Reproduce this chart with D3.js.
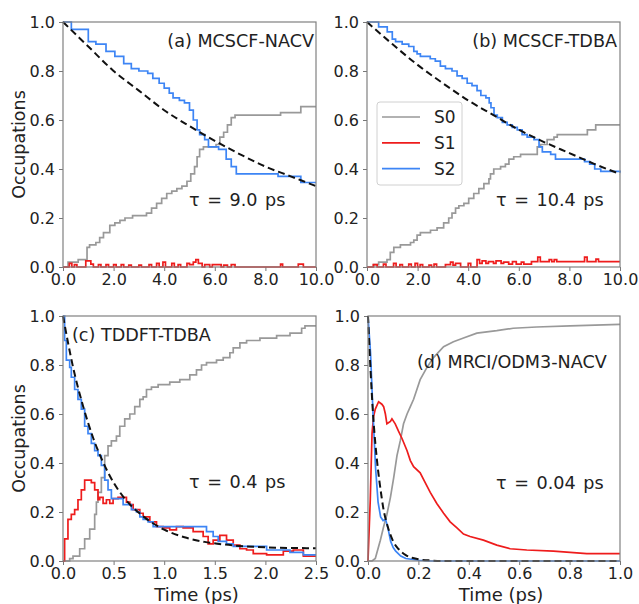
<!DOCTYPE html>
<html>
<head>
<meta charset="utf-8">
<script src="https://cdn.jsdelivr.net/npm/d3@7"></script>
<style>
  body { margin: 0; background: #fff; }
  text { font-family: "DejaVu Sans", sans-serif; fill: #222; }
</style>
</head>
<body>
<div id="chart"></div>
<script>

// ---- (a) MCSCF-NACV ----
const aS0T = [0, 0.2, 0.6, 0.95, 1.05, 1.3, 1.45, 1.6, 1.85, 2.05, 2.25, 2.45, 2.75, 3.3, 3.5, 3.7, 3.9, 4.1, 4.3, 4.5, 4.7, 4.9, 5.05, 5.2, 5.3, 5.4, 5.55, 6.05, 6.2, 6.35, 6.5, 6.65, 6.8, 8.6, 9.4, 10];
const aS0V = [0, 0.02, 0.03, 0.08, 0.09, 0.1, 0.12, 0.14, 0.17, 0.18, 0.19, 0.2, 0.21, 0.22, 0.24, 0.26, 0.28, 0.3, 0.31, 0.32, 0.33, 0.35, 0.38, 0.41, 0.45, 0.48, 0.49, 0.50, 0.53, 0.55, 0.58, 0.61, 0.62, 0.63, 0.655, 0.655];
const aS1T = [0, 0.25, 0.35, 0.45, 0.55, 0.9, 1.1, 1.2, 1.4, 1.5, 1.7, 1.8, 2.0, 2.1, 2.3, 2.4, 2.6, 2.7, 3.0, 3.1, 3.4, 3.5, 3.7, 3.8, 3.95, 4.05, 4.3, 4.4, 4.55, 4.65, 4.9, 5.0, 5.15, 5.25, 5.35, 5.5, 5.6, 5.8, 5.9, 6.25, 6.35, 6.5, 6.65, 6.8, 8.6, 8.68, 9.3, 9.5, 10];
const aS1V = [0, 0.015, 0, 0.01, 0, 0.025, 0.012, 0, 0.01, 0, 0.01, 0, 0.01, 0, 0.01, 0, 0.008, 0, 0.008, 0, 0.01, 0, 0.015, 0, 0.02, 0, 0.015, 0, 0.01, 0, 0.015, 0.01, 0.02, 0.03, 0.015, 0, 0.01, 0, 0.01, 0, 0.008, 0, 0.01, 0, 0.012, 0, 0.012, 0, 0];
const aS2T = [0, 0.33, 1.0, 1.3, 1.7, 2.05, 2.4, 2.7, 3.0, 3.35, 3.55, 3.8, 4.0, 4.2, 4.35, 4.6, 4.8, 5.0, 5.15, 5.3, 5.4, 5.6, 5.75, 6.15, 6.45, 6.65, 6.85, 8.5, 9.4, 10];
const aS2V = [1.0, 0.97, 0.92, 0.91, 0.88, 0.86, 0.83, 0.81, 0.80, 0.79, 0.77, 0.75, 0.73, 0.71, 0.69, 0.68, 0.67, 0.64, 0.60, 0.56, 0.54, 0.52, 0.49, 0.48, 0.44, 0.41, 0.38, 0.37, 0.345, 0.345];
const aFitT = [0, 1, 2, 3, 4, 5, 6, 7, 8, 9, 10];
const aFitV = [1.0, 0.90, 0.80, 0.72, 0.64, 0.575, 0.515, 0.46, 0.41, 0.37, 0.33];

// ---- (b) MCSCF-TDBA ----
const bS0T = [0, 0.26, 0.46, 0.79, 0.92, 1.06, 1.32, 1.72, 1.85, 1.98, 2.11, 2.51, 2.77, 3.03, 3.23, 3.36, 3.5, 3.63, 3.83, 4.02, 4.22, 4.42, 4.62, 4.82, 4.88, 5.01, 5.28, 5.47, 5.61, 5.8, 6.07, 6.73, 6.86, 7.12, 7.39, 7.52, 8.71, 9.04, 10];
const bS0V = [0, 0.01, 0.02, 0.03, 0.06, 0.08, 0.09, 0.10, 0.11, 0.13, 0.14, 0.15, 0.16, 0.18, 0.20, 0.22, 0.24, 0.25, 0.26, 0.28, 0.30, 0.32, 0.34, 0.36, 0.38, 0.40, 0.41, 0.42, 0.44, 0.45, 0.46, 0.49, 0.50, 0.52, 0.53, 0.54, 0.56, 0.58, 0.58];
const bS1T = [0, 0.25, 0.4, 0.65, 0.75, 1.05, 1.15, 1.3, 1.4, 1.65, 1.75, 1.9, 2.0, 2.1, 2.2, 2.45, 2.55, 2.65, 2.75, 3.1, 3.3, 3.4, 3.5, 3.7, 4.0, 4.1, 4.35, 4.45, 4.55, 4.7, 4.8, 5.0, 5.1, 5.3, 5.4, 5.6, 5.75, 5.9, 6.1, 6.2, 6.5, 6.75, 6.85, 7.2, 7.3, 7.4, 7.5, 8.6, 8.7, 9.05, 9.15, 10];
const bS1V = [0, 0.01, 0, 0.012, 0, 0.015, 0, 0.01, 0, 0.012, 0, 0.015, 0, 0.01, 0, 0.008, 0, 0.012, 0, 0.01, 0.02, 0.008, 0.015, 0, 0.015, 0, 0.03, 0.015, 0.025, 0.015, 0.022, 0.015, 0.025, 0.015, 0.02, 0.012, 0.022, 0.012, 0.02, 0.012, 0.022, 0.04, 0.022, 0.03, 0.022, 0.03, 0.022, 0.04, 0.022, 0.032, 0.022, 0.022];
const bS2T = [0, 0.46, 0.8, 1.0, 1.13, 1.39, 1.65, 1.85, 1.98, 2.11, 2.5, 2.7, 2.9, 3.1, 3.36, 3.56, 3.76, 3.96, 4.15, 4.35, 4.5, 4.7, 4.83, 4.9, 5.02, 5.15, 5.35, 5.54, 5.74, 5.94, 6.13, 6.33, 6.6, 6.8, 6.93, 7.26, 7.45, 8.6, 8.8, 9.0, 9.24, 10];
const bS2V = [1.0, 0.98, 0.96, 0.93, 0.92, 0.91, 0.90, 0.88, 0.87, 0.86, 0.85, 0.84, 0.82, 0.81, 0.80, 0.78, 0.77, 0.75, 0.74, 0.72, 0.70, 0.69, 0.67, 0.65, 0.62, 0.61, 0.59, 0.58, 0.57, 0.56, 0.54, 0.53, 0.52, 0.49, 0.47, 0.46, 0.44, 0.43, 0.42, 0.40, 0.39, 0.385];
const bFitT = [0, 1, 2, 3, 4, 5, 6, 7, 8, 9, 10];
const bFitV = [1.0, 0.91, 0.825, 0.75, 0.68, 0.62, 0.56, 0.51, 0.465, 0.42, 0.38];

// ---- (c) TDDFT-TDBA ----
const cS0T = [0, 0.066, 0.099, 0.165, 0.214, 0.264, 0.313, 0.330, 0.346, 0.379, 0.412, 0.445, 0.478, 0.528, 0.561, 0.610, 0.660, 0.709, 0.759, 0.792, 0.825, 0.874, 0.940, 1.055, 1.154, 1.253, 1.319, 1.369, 1.418, 1.517, 1.583, 1.649, 1.682, 1.748, 1.814, 1.946, 2.111, 2.243, 2.358, 2.391, 2.5];
const cS0V = [0, 0.01, 0.02, 0.05, 0.09, 0.13, 0.19, 0.24, 0.28, 0.34, 0.43, 0.47, 0.49, 0.51, 0.55, 0.58, 0.60, 0.63, 0.66, 0.67, 0.70, 0.71, 0.72, 0.73, 0.74, 0.76, 0.78, 0.80, 0.81, 0.82, 0.83, 0.85, 0.87, 0.89, 0.90, 0.91, 0.92, 0.93, 0.95, 0.96, 0.96];
const cS1T = [0, 0.016, 0.049, 0.082, 0.115, 0.148, 0.181, 0.214, 0.247, 0.280, 0.313, 0.346, 0.363, 0.396, 0.429, 0.462, 0.495, 0.544, 0.594, 0.627, 0.660, 0.693, 0.726, 0.759, 0.792, 0.858, 0.924, 0.989, 1.055, 1.121, 1.187, 1.286, 1.385, 1.434, 1.484, 1.550, 1.616, 1.682, 1.748, 1.814, 1.880, 2.012, 2.177, 2.276, 2.375, 2.5];
const cS1V = [0, 0.09, 0.17, 0.19, 0.21, 0.25, 0.29, 0.33, 0.33, 0.32, 0.29, 0.25, 0.26, 0.235, 0.25, 0.235, 0.255, 0.26, 0.26, 0.24, 0.23, 0.21, 0.21, 0.195, 0.18, 0.16, 0.14, 0.135, 0.127, 0.14, 0.135, 0.12, 0.10, 0.07, 0.085, 0.105, 0.085, 0.065, 0.05, 0.045, 0.03, 0.025, 0.04, 0.045, 0.02, 0.02];
const cS2T = [0, 0.016, 0.033, 0.066, 0.082, 0.115, 0.148, 0.181, 0.214, 0.247, 0.28, 0.313, 0.346, 0.379, 0.412, 0.445, 0.478, 0.594, 0.676, 0.726, 0.759, 0.792, 0.841, 0.891, 1.418, 1.484, 1.534, 1.616, 1.682, 2.012, 2.243, 2.375, 2.5];
const cS2V = [1.0, 0.90, 0.82, 0.79, 0.75, 0.70, 0.66, 0.62, 0.55, 0.52, 0.48, 0.45, 0.43, 0.39, 0.33, 0.29, 0.255, 0.23, 0.21, 0.20, 0.18, 0.17, 0.16, 0.14, 0.12, 0.10, 0.08, 0.07, 0.06, 0.045, 0.035, 0.025, 0.025];
const cFitT = [0, 0.1, 0.2, 0.3, 0.4, 0.5, 0.6, 0.8, 1.0, 1.2, 1.4, 1.6, 2.0, 2.5];
const cFitV = [1.0, 0.79, 0.63, 0.5, 0.4, 0.32, 0.26, 0.18, 0.128, 0.097, 0.078, 0.067, 0.056, 0.052];

// ---- (d) MRCI/ODM3-NACV ----
const dS0T = [0, 0.016, 0.029, 0.049, 0.062, 0.075, 0.089, 0.102, 0.115, 0.128, 0.141, 0.155, 0.168, 0.181, 0.194, 0.207, 0.234, 0.260, 0.300, 0.339, 0.379, 0.432, 0.511, 0.576, 0.669, 0.802, 1.0];
const dS0V = [0, 0, 0.01, 0.085, 0.14, 0.19, 0.26, 0.34, 0.43, 0.49, 0.56, 0.60, 0.63, 0.66, 0.70, 0.74, 0.79, 0.83, 0.875, 0.895, 0.91, 0.93, 0.94, 0.95, 0.955, 0.96, 0.966];
const dS1T = [0, 0.009, 0.016, 0.022, 0.029, 0.042, 0.055, 0.062, 0.069, 0.075, 0.089, 0.095, 0.108, 0.121, 0.135, 0.155, 0.168, 0.181, 0.207, 0.227, 0.247, 0.273, 0.300, 0.326, 0.353, 0.379, 0.405, 0.458, 0.511, 0.564, 0.630, 0.736, 0.868, 1.0];
const dS1V = [0, 0.25, 0.52, 0.59, 0.62, 0.65, 0.64, 0.63, 0.60, 0.56, 0.57, 0.58, 0.56, 0.53, 0.50, 0.45, 0.41, 0.385, 0.36, 0.32, 0.28, 0.235, 0.195, 0.16, 0.135, 0.11, 0.10, 0.085, 0.065, 0.05, 0.045, 0.04, 0.03, 0.03];
const dS2T = [0, 0.01, 0.02, 0.03, 0.04, 0.05, 0.06, 0.07, 0.08, 0.09, 0.1, 0.11, 0.13, 0.15, 0.2, 0.25, 1.0];
const dS2V = [1.0, 0.85, 0.6, 0.38, 0.24, 0.18, 0.165, 0.17, 0.13, 0.08, 0.055, 0.04, 0.02, 0.01, 0.003, 0, 0];
const dFitT = [0, 0.01, 0.02, 0.03, 0.04, 0.05, 0.06, 0.08, 0.1, 0.12, 0.15, 0.2, 0.25, 0.3, 1.0];
const dFitV = [1, 0.78, 0.6, 0.47, 0.37, 0.29, 0.22, 0.135, 0.08, 0.05, 0.024, 0.007, 0.002, 0, 0];

const yTicks = [0, 0.2, 0.4, 0.6, 0.8, 1.0];
const abTicks = [0, 2, 4, 6, 8, 10];
const cTicks = [0, 0.5, 1.0, 1.5, 2.0, 2.5];
const dTicks = [0, 0.2, 0.4, 0.6, 0.8, 1.0];

const stateNames = ['S0', 'S1', 'S2'];
const stateColors = ['#999999', '#ee1c1c', '#3d85f5'];

const zip = (t, v) => t.map((d, i) => ({t: d, v: v[i]}));

const panels = [
  {box: [63, 316, 22, 267], xmax: 10, xticks: abTicks, title: '(a) MCSCF-NACV', titleAt: [314, 47, 'end'],
   tau: 'τ = 9.0 ps', tauAt: [189, 206], curve: d3.curveStepAfter, ylabel: true, xlabel: false,
   series: [zip(aS0T, aS0V), zip(aS1T, aS1V), zip(aS2T, aS2V)], fit: zip(aFitT, aFitV)},
  {box: [367, 620, 22, 267], xmax: 10, xticks: abTicks, title: '(b) MCSCF-TDBA', titleAt: [617, 47, 'end'],
   tau: 'τ = 10.4 ps', tauAt: [496, 206], curve: d3.curveStepAfter, ylabel: false, xlabel: false, legend: true,
   series: [zip(bS0T, bS0V), zip(bS1T, bS1V), zip(bS2T, bS2V)], fit: zip(bFitT, bFitV)},
  {box: [63, 316, 316, 561], xmax: 2.5, xticks: cTicks, title: '(c) TDDFT-TDBA', titleAt: [72, 341, 'start'],
   tau: 'τ = 0.4 ps', tauAt: [189, 488], curve: d3.curveStepAfter, ylabel: true, xlabel: true,
   series: [zip(cS0T, cS0V), zip(cS1T, cS1V), zip(cS2T, cS2V)], fit: zip(cFitT, cFitV)},
  {box: [368, 620, 316, 561], xmax: 1.0, xticks: dTicks, title: '(d) MRCI/ODM3-NACV', titleAt: [417, 368, 'start'],
   tau: 'τ = 0.04 ps', tauAt: [496, 489], curve: d3.curveLinear, ylabel: false, xlabel: true,
   series: [zip(dS0T, dS0V), zip(dS1T, dS1V), zip(dS2T, dS2V)], fit: zip(dFitT, dFitV)}
];

const svg = d3.select('#chart').append('svg')
  .attr('width', 639)
  .attr('height', 604);

const fmt = d3.format('.1f');

panels.forEach(function(p) {
  const [x0, x1, y0, y1] = p.box;
  const x = d3.scaleLinear().domain([0, p.xmax]).range([x0, x1]);
  const y = d3.scaleLinear().domain([0, 1]).range([y1, y0]);

  const g = svg.append('g');

  // axes
  const gx = g.append('g')
    .attr('transform', `translate(0, ${y1})`)
    .call(d3.axisBottom(x).tickValues(p.xticks).tickFormat(fmt).tickSize(4).tickPadding(3));
  const gy = g.append('g')
    .attr('transform', `translate(${x0}, 0)`)
    .call(d3.axisLeft(y).tickValues(yTicks).tickFormat(fmt).tickSize(4).tickPadding(4));
  [gx, gy].forEach(function(a) {
    a.select('.domain').remove();
    a.selectAll('line').attr('stroke', '#777');
    a.selectAll('text').style('font-size', '16px').attr('fill', '#222');
  });

  // series
  const line = d3.line().x(d => x(d.t)).y(d => y(d.v)).curve(p.curve);
  p.series.forEach(function(s, i) {
    g.append('path')
      .datum(s)
      .attr('fill', 'none')
      .attr('stroke', stateColors[i])
      .attr('stroke-width', 1.7)
      .attr('d', line);
  });

  // fit
  const fitLine = d3.line().x(d => x(d.t)).y(d => y(d.v)).curve(d3.curveMonotoneX);
  g.append('path')
    .datum(p.fit)
    .attr('fill', 'none')
    .attr('stroke', '#111')
    .attr('stroke-width', 2)
    .attr('stroke-dasharray', '7,4')
    .attr('d', fitLine);

  // frame
  g.append('rect')
    .attr('x', x0).attr('y', y0)
    .attr('width', x1 - x0).attr('height', y1 - y0)
    .attr('fill', 'none')
    .attr('stroke', '#808080')
    .attr('stroke-width', 1.2);

  g.append('text')
    .attr('x', p.titleAt[0]).attr('y', p.titleAt[1])
    .attr('text-anchor', p.titleAt[2])
    .style('font-size', '17.6px')
    .text(p.title);

  g.append('text')
    .attr('x', p.tauAt[0]).attr('y', p.tauAt[1])
    .style('font-size', '17.6px')
    .style('word-spacing', '2px')
    .text(p.tau);

  if (p.ylabel) {
    g.append('text')
      .attr('transform', `translate(25, ${(y0 + y1) / 2}) rotate(-90)`)
      .attr('text-anchor', 'middle')
      .style('font-size', '17.5px')
      .text('Occupations');
  }
  if (p.xlabel) {
    g.append('text')
      .attr('x', (x0 + x1) / 2 + 7).attr('y', 601)
      .attr('text-anchor', 'middle')
      .style('font-size', '18px')
      .text('Time (ps)');
  }

  if (p.legend) {
    const lg = g.append('g');
    lg.append('rect')
      .attr('x', 377).attr('y', 102)
      .attr('width', 85).attr('height', 83)
      .attr('rx', 3)
      .attr('fill', '#fff').attr('fill-opacity', 0.8)
      .attr('stroke', '#d0d0d0');
    stateNames.forEach(function(n, i) {
      const ly = 117 + i * 25.8;
      lg.append('line')
        .attr('x1', 382).attr('x2', 420)
        .attr('y1', ly).attr('y2', ly)
        .attr('stroke', stateColors[i]).attr('stroke-width', 1.7);
      lg.append('text')
        .attr('x', 434).attr('y', ly + 6)
        .style('font-size', '17px')
        .text(n);
    });
  }
});

</script>
</body>
</html>
